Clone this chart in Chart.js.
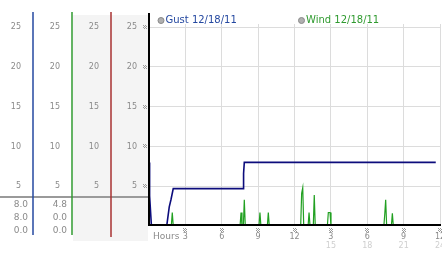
<!DOCTYPE html>
<html>
<head>
<meta charset="utf-8">
<script src="https://cdn.jsdelivr.net/npm/chart.js@4.4.0/dist/chart.umd.min.js"></script>
<style>
  html, body { margin: 0; padding: 0; background: #fff; }
  #wrap { width: 442px; height: 253px; }
</style>
</head>
<body>
<div id="wrap"><canvas id="windChart" width="442" height="253"></canvas></div>
<script>
// gust trace, hours since midnight / mph
const gustHours  = [0, 0.05, 0.2, 1.46, 1.67, 1.81, 2.0, 7.78, 7.8, 7.86, 23.65];
const gustValues = [8, 3.8, 0,   0,    2.4,  3.3,  4.7, 4.7,  6.6, 8,    8];

// wind trace, mostly calm with a few spikes
const windHours  = [0, 1.84, 1.92, 2.0, 7.51, 7.59, 7.67, 7.78, 7.86, 7.94, 9.07, 9.15, 9.23,
                    9.76, 9.84, 9.92, 12.51, 12.59, 12.68, 12.76, 13.12, 13.2, 13.28,
                    13.55, 13.63, 13.71, 14.71, 14.79, 14.93, 15.01, 19.37, 19.45, 19.52, 19.6,
                    19.99, 20.07, 20.15, 23.65];
const windValues = [0, 0, 1.7, 0, 0, 1.7, 0, 0, 3.3, 0, 0, 1.7, 0,
                    0, 1.7, 0, 0, 4.1, 4.8, 0, 0, 1.7, 0,
                    0, 3.9, 0, 0, 1.7, 1.7, 0, 0, 1.6, 3.3, 0,
                    0, 1.6, 0, 0];

const yTicks = [5, 10, 15, 20, 25];
const xTicks = [3, 6, 9, 12, 15, 18, 21, 24];
const xLabels = ['3', '6', '9', '12', '3', '6', '9', '12'];
const xLabels2 = ['', '', '', '', '15', '18', '21', '24'];
const legendNames = ['Gust 12/18/11', 'Wind 12/18/11'];
const gustStats = ['8.0', '8.0', '0.0'];
const windStats = ['4.8', '0.0', '0.0'];

const tickFont = { family: 'DejaVu Sans', size: 8 };
const tickGray = '#8a8a8a';

function pts(xs, ys) {
    return xs.map((x, i) => ({ x: x, y: ys[i] }));
}

function marker(c, x, y) {
    // little dotted tick mark
    c.fillStyle = '#9a9a9a';
    [[-2, -2], [0, -2], [-1, -1], [1, -1], [-2, 0], [0, 0], [-1, 1], [1, 1]].forEach(function(d) {
        c.fillRect(Math.round(x) + d[0], Math.round(y) + d[1], 1, 1);
    });
}

function leftAxis(weight, width, showGrid) {
    return {
        type: 'linear',
        position: 'left',
        min: 0,
        max: 25.4,
        weight: weight,
        grid: showGrid ? { color: '#dcdcdc', drawTicks: false } : { display: false, drawTicks: false },
        border: { display: false },
        ticks: { padding: 12, color: tickGray, font: tickFont, includeBounds: false },
        afterBuildTicks: function(s) { s.ticks = yTicks.map(v => ({ value: v })); },
        afterFit: function(s) { s.width = width; s.paddingTop = 0; s.paddingBottom = 0; }
    };
}

const extras = {
    id: 'extras',
    beforeDraw(chart) {
        const c = chart.ctx;
        c.save();
        c.fillStyle = '#f4f4f4';
        c.fillRect(73, 15, 75, 226);
        c.restore();
    },
    afterDatasetsDraw(chart) {
        const c = chart.ctx;
        const a = chart.chartArea;
        c.save();
        c.strokeStyle = '#000';
        c.lineWidth = 2;
        c.beginPath();
        c.moveTo(a.left, a.bottom - 1);
        c.lineTo(a.right + 1, a.bottom - 1);
        c.stroke();
        c.restore();
    },
    afterDraw(chart) {
        const c = chart.ctx;
        const a = chart.chartArea;
        const s = chart.scales;
        c.save();

        // separator above the stats rows
        c.strokeStyle = '#9a9a9a';
        c.lineWidth = 2;
        c.beginPath();
        c.moveTo(0, 197);
        c.lineTo(148, 197);
        c.stroke();

        // column rules
        const cols = [[s.yGust.right, '#2448a0', 235], [s.yWind.right, '#2f9a2f', 235], [s.yRed.right, '#a83232', 237]];
        c.lineWidth = 1.5;
        cols.forEach(function(col) {
            c.strokeStyle = col[1];
            c.beginPath();
            c.moveTo(col[0], 12);
            c.lineTo(col[0], col[2]);
            c.stroke();
        });
        c.strokeStyle = '#000';
        c.lineWidth = 2;
        c.beginPath();
        c.moveTo(a.left, 13);
        c.lineTo(a.left, a.bottom);
        c.stroke();

        // stats rows
        c.font = '9px "DejaVu Sans"';
        c.fillStyle = tickGray;
        c.textAlign = 'right';
        c.textBaseline = 'middle';
        const rows = [204.5, 217.5, 231];
        gustStats.forEach((t, i) => c.fillText(t, s.yGust.right - 5, rows[i]));
        windStats.forEach((t, i) => c.fillText(t, s.yWind.right - 5, rows[i]));

        // tick markers
        yTicks.forEach(v => marker(c, a.left - 4, s.y.getPixelForValue(v)));
        xTicks.forEach(v => marker(c, s.x.getPixelForValue(v), a.bottom + 4));

        c.font = '9px "DejaVu Sans"';
        c.textAlign = 'left';
        c.fillStyle = tickGray;
        c.fillText('Hours', 153, 236.5);

        // legend
        const legendX = [161, 301.5];
        const legendColors = ['#2448a0', '#2f9a2f'];
        c.font = '10px "DejaVu Sans"';
        legendNames.forEach(function(name, i) {
            c.beginPath();
            c.arc(legendX[i], 20.5, 3, 0, Math.PI * 2);
            c.fillStyle = '#b0b0b0';
            c.fill();
            c.strokeStyle = '#888';
            c.lineWidth = 1;
            c.stroke();
            c.fillStyle = legendColors[i];
            c.fillText(name, legendX[i] + 4.5, 20.5);
        });
        c.restore();
    }
};

const ctx = document.getElementById('windChart').getContext('2d');
const windChart = new Chart(ctx, {
    type: 'line',
    data: {
        datasets: [{
            label: legendNames[0],
            data: pts(gustHours, gustValues),
            borderColor: '#0c0c7c',
            borderWidth: 1.6,
            pointRadius: 0,
            tension: 0,
            xAxisID: 'x',
            yAxisID: 'yGust'
        }, {
            label: legendNames[1],
            data: pts(windHours, windValues),
            borderColor: '#22a022',
            borderWidth: 1.2,
            pointRadius: 0,
            tension: 0,
            xAxisID: 'x',
            yAxisID: 'yWind'
        }]
    },
    options: {
        responsive: false,
        animation: false,
        layout: { padding: { top: 24, right: 2, left: 0, bottom: 0 } },
        plugins: {
            legend: { display: false },
            tooltip: { enabled: false }
        },
        scales: {
            x: {
                type: 'linear',
                position: 'bottom',
                min: 0,
                max: 24,
                weight: 0,
                grid: { color: '#dcdcdc', drawTicks: false },
                border: { display: false },
                ticks: {
                    color: tickGray, font: tickFont, padding: 6, autoSkip: false, maxRotation: 0,
                    callback: function(v) { return xLabels[xTicks.indexOf(v)]; }
                },
                afterBuildTicks: function(s) { s.ticks = xTicks.map(v => ({ value: v })); },
                afterFit: function(s) { s.height = 15; s.paddingLeft = 0; s.paddingRight = 0; }
            },
            x2: {
                type: 'linear',
                position: 'bottom',
                min: 0,
                max: 24,
                weight: 1,
                grid: { display: false, drawTicks: false },
                border: { display: false },
                ticks: {
                    color: '#cfcfcf', font: tickFont, padding: 0, autoSkip: false, maxRotation: 0,
                    callback: function(v) { return xLabels2[xTicks.indexOf(v)]; }
                },
                afterBuildTicks: function(s) {
                    s.ticks = xTicks.filter((v, i) => xLabels2[i] !== '').map(v => ({ value: v }));
                },
                afterFit: function(s) { s.height = 12; s.paddingLeft = 0; s.paddingRight = 0; }
            },
            y: leftAxis(0, 38, true),
            yRed: leftAxis(1, 39, false),
            yWind: leftAxis(2, 39, false),
            yGust: leftAxis(3, 33, false)
        }
    },
    plugins: [extras]
});
</script>
</body>
</html>
